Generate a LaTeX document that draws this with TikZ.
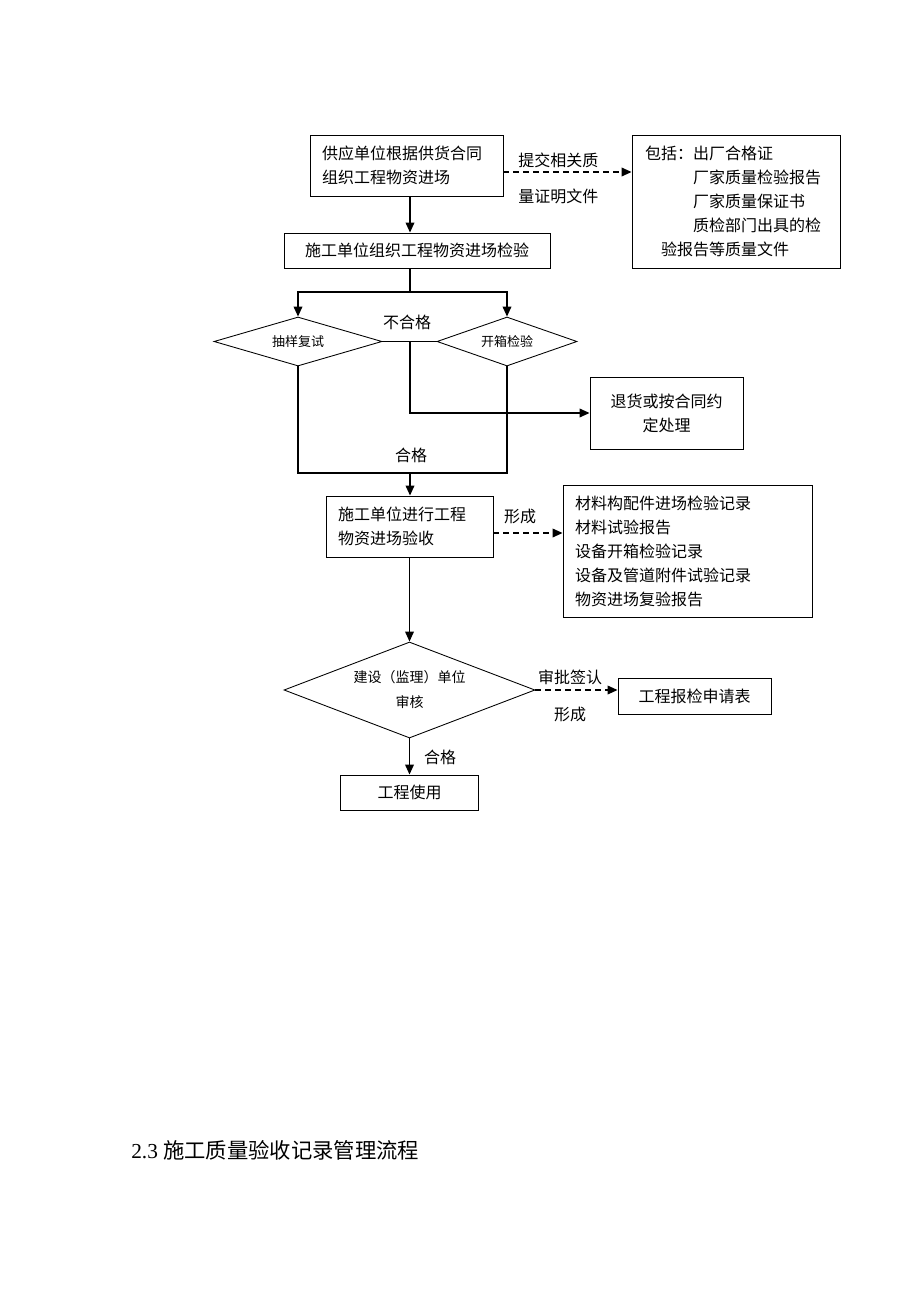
\documentclass[tikz,border=0pt]{standalone}
\usepackage{fontspec}
\setmainfont{Liberation Serif}
\newfontfamily\cjk{Noto Sans CJK SC}
\usetikzlibrary{arrows.meta,shapes.geometric,calc}

\begin{document}
\begin{tikzpicture}[x=0.75pt,y=0.75pt,yscale=-1,xscale=1,
  txt/.style={font={\cjk\fontsize{12}{18}\selectfont},inner sep=0pt},
  box/.style={txt,draw,line width=0.65pt},
  lbox/.style={box,align=left,inner xsep=9pt},
  cbox/.style={box,align=center},
  decide/.style={draw,diamond,line width=0.65pt,inner sep=0pt,shape aspect=3,align=center,font={\cjk\fontsize{9.75}{18}\selectfont}},
  link/.style={line width=0.9pt},
  flow/.style={line width=1.1pt,-{Triangle[length=7.5pt,width=6.5pt]}},
  note/.style={flow,dash pattern=on 4.5pt off 3pt}]
\useasboundingbox (0,0) rectangle (920,1302); %page of 920 x 1302

\node[lbox,text width=126.75pt,minimum height=45.75pt] (supply) at (406.5,165.5) {供应单位根据供货合同\\组织工程物资进场};
\node[cbox,minimum width=199.5pt,minimum height=26.25pt] (inspect) at (417,250.5) {施工单位组织工程物资进场检验};
\node[lbox,inner xsep=9.75pt,text width=136.5pt,minimum height=99.75pt] (docs) at (736,201.5) {包括：出厂合格证\\\hspace*{3em}厂家质量检验报告\\\hspace*{3em}厂家质量保证书\\\hspace*{3em}质检部门出具的检\\\hspace*{1em}验报告等质量文件};
\node[decide,minimum width=126pt,minimum height=36.75pt] (sample) at (298,341.5) {抽样复试};
\node[decide,minimum width=105pt,minimum height=36.75pt] (unbox) at (507,341.5) {开箱检验};
\node[cbox,minimum width=114.75pt,minimum height=54pt] (reject) at (666.5,413) {退货或按合同约\\定处理};
\node[lbox,text width=107.25pt,minimum height=45.75pt] (accept) at (409.5,526.5) {施工单位进行工程\\物资进场验收};
\node[lbox,text width=168.75pt,minimum height=99pt] (records) at (687.5,551) {材料构配件进场检验记录\\材料试验报告\\设备开箱检验记录\\设备及管道附件试验记录\\物资进场复验报告};
\node[decide,minimum width=188.25pt,minimum height=72pt,font={\cjk\fontsize{10.5}{18.75}\selectfont}] (review) at (409.5,690) {建设（监理）单位\\审核};
\node[cbox,minimum width=114.75pt,minimum height=27pt] (apply) at (694.5,696) {工程报检申请表};
\node[cbox,minimum width=103.5pt,minimum height=26.25pt] (use) at (409.5,792.5) {工程使用};

\coordinate (split) at (410,292);
\coordinate (merge) at (410,473);
\coordinate (sendA) at ($(supply.east)+(0,6.5)$);
\coordinate (sendB) at ($(accept.east)+(0,6.5)$);

\draw[flow] (supply.south -| split) -- (inspect.north -| split);
\draw[link] (inspect.south -| split) -- (split);
\draw[flow] (split) -| (sample.north);
\draw[flow] (split) -| (unbox.north);
\draw[link] (sample.east) -- (unbox.west);
\draw[flow] (sample.east -| split) |- (reject.west);
\draw[link] (sample.south) |- (merge) -| (unbox.south);
\draw[flow] (merge) -- (accept.north -| merge);
\draw[flow] (accept.south) -- (review.north);
\draw[flow] (review.south) -- (use.north);
\draw[note] (sendA) -- (sendA -| docs.west);
\draw[note] (sendB) -- (sendB -| records.west);
\draw[note] (review.east) -- (review.east -| apply.west);

\node[txt,anchor=west] (sendtop) at (518,160) {提交相关质};
\node[txt,anchor=west] (sendbot) at (518,196) {量证明文件};
\node[txt] (fail) at (407,322) {不合格};
\node[txt] (pass) at (411,455) {合格};
\node[txt] (formA) at (520,516) {形成};
\node[txt] (sign) at (570,677) {审批签认};
\node[txt] (formB) at (570,714) {形成};
\node[txt] (passB) at (440,757) {合格};
\node[anchor=west,inner sep=0pt,font=\fontsize{16}{20}\selectfont] (title) at (131,1150) {2.3 {\cjk 施工质量验收记录管理流程}};
\end{tikzpicture}
\end{document}
